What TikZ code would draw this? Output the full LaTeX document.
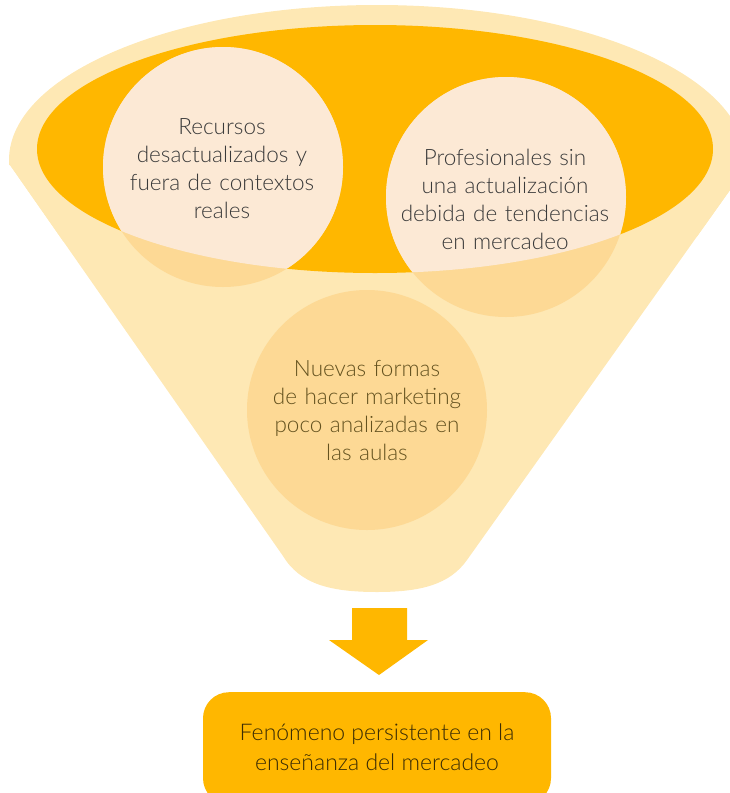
\documentclass[tikz,border=0pt]{standalone}
\usepackage{fontspec}
\setmainfont{Lato}[UprightFont={* Light}]
\definecolor{funnel}{HTML}{FEE8B4}
\definecolor{amber}{HTML}{FFB700}
\definecolor{circout}{HTML}{FDD995}
\definecolor{circin}{HTML}{FCE9D5}
\definecolor{txtgray}{HTML}{3A3A3A}
\definecolor{txtbrown}{HTML}{64521F}
\definecolor{txtdark}{HTML}{3A2C05}
\begin{document}
\begin{tikzpicture}[x=1pt,y=-1pt,
  bubble/.style={circle,minimum size=240pt,inner sep=0pt,fill=circout},
  bubbletext/.style={align=center,text width=220pt,font=\fontsize{22.5}{28}\selectfont},
  resultbox/.style={fill=amber,rounded corners=26pt,minimum width=348pt,minimum height=112pt,inner sep=0pt}]
\useasboundingbox (0,0) rectangle (730,793);
\clip (0,0) rectangle (730,793);
% funnel
\begin{scope}
  \clip (-50,-50) -- (800,-50) -- (800,183) -- (735,183) -- (467,560) -- (283,556) -- (10,165) -- (-50,165) -- cycle;
  \fill[funnel] (377,160) ellipse [x radius=368, y radius=155];
\end{scope}
\fill[funnel] (377,160) -- (10,165) -- (283,556)
  .. controls (300,584) and (330,592) .. (377,592)
  .. controls (422,592) and (450,584) .. (467,560)
  -- (735,183) -- cycle;
\fill[amber] (375,149) ellipse [x radius=338, y radius=124];
% bubbles
\node[bubble] (b1) at (223,167) {};
\node[bubble] (b2) at (506,197) {};
\node[bubble] (b3) at (367,410) {};
\begin{scope}
  \clip (375,149) ellipse [x radius=338, y radius=124];
  \fill[circin] (b1.center) circle [radius=120];
  \fill[circin] (b2.center) circle [radius=120];
\end{scope}
\node[bubbletext,text=txtgray] (t1) at (222,169) {Recursos\\desactualizados y\\fuera de contextos\\reales};
\node[bubbletext,text=txtgray] (t2) at (505,199) {Profesionales sin\\una actualización\\debida de tendencias\\en mercadeo};
\node[bubbletext,text=txtbrown] (t3) at (367,411) {Nuevas formas\\de hacer marketing\\poco analizadas en\\las aulas};
% arrow
\coordinate (atip) at (379,675);
\fill[amber] (352,608) -- (407,608) -- (407,640) -- (428,640) -- (atip) -- (329,640) -- (352,640) -- cycle;
% result box
\node[resultbox,anchor=north] (res) at (377,692) {};
\node[align=center,text=txtdark,font=\fontsize{23}{30}\selectfont] (rt) at (377,747) {Fenómeno persistente en la\\enseñanza del mercadeo};
\end{tikzpicture}
\end{document}
